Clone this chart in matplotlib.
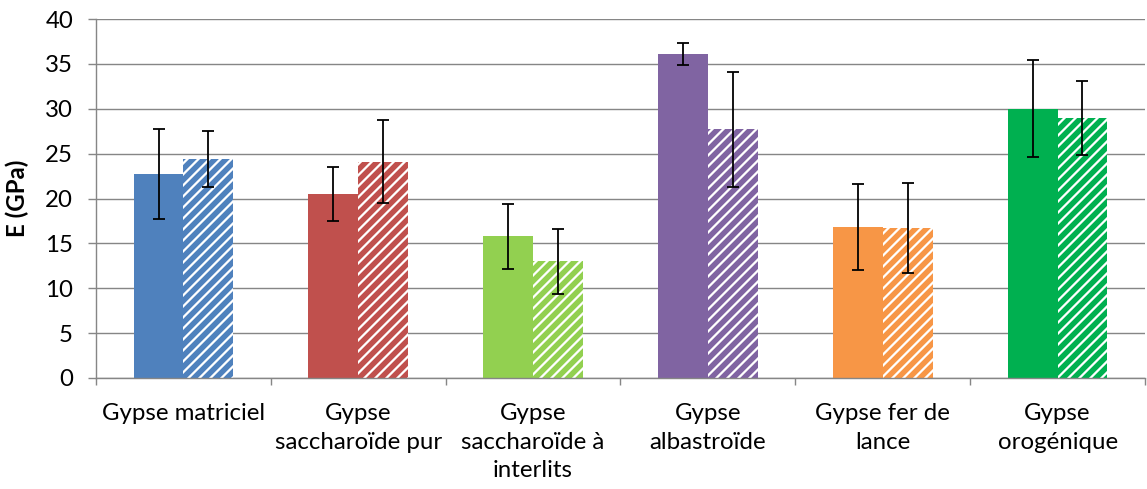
import numpy as np
import matplotlib
matplotlib.use('Agg')
import matplotlib.pyplot as plt

# Data
categories = ['Gypse matriciel', 'Gypse\nsaccharoïde pur', 'Gypse\nsaccharoïde à\ninterlits',
              'Gypse\nalbastroïde', 'Gypse fer de\nlance', 'Gypse\norogénique']
solid_vals = [22.7, 20.5, 15.8, 36.1, 16.8, 30.0]
solid_err = [5.0, 3.0, 3.6, 1.2, 4.8, 5.4]
hatch_vals = [24.4, 24.1, 13.0, 27.7, 16.7, 29.0]
hatch_err = [3.1, 4.6, 3.6, 6.4, 5.0, 4.1]
colors = ['#4F81BD', '#C0504D', '#92D050', '#8064A2', '#F79646', '#00B050']
yticks = [0, 5, 10, 15, 20, 25, 30, 35, 40]

DPI = 66
px = 72.0 / DPI  # points per pixel

plt.rcParams['font.family'] = ['Lato', 'DejaVu Sans']
plt.rcParams['hatch.linewidth'] = 5.5 * px

fig = plt.figure(figsize=(1147 / DPI, 489 / DPI), dpi=DPI)
ax = fig.add_axes([96 / 1147, 1 - 378 / 489, 1049 / 1147, 359 / 489])

x = np.arange(len(categories))
w = 0.285

ax.bar(x - w / 2, solid_vals, w, color=colors, zorder=2)
ax.bar(x + w / 2, hatch_vals, w, color='white', edgecolor=colors, hatch='//',
       linewidth=0, zorder=2)

ax.errorbar(x - w / 2, solid_vals, yerr=solid_err, fmt='none', ecolor='black',
            elinewidth=1.8 * px, capsize=6 * px, capthick=1.8 * px, zorder=3)
ax.errorbar(x + w / 2, hatch_vals, yerr=hatch_err, fmt='none', ecolor='black',
            elinewidth=1.8 * px, capsize=6 * px, capthick=1.8 * px, zorder=3)

ax.set_xlim(-0.5, len(categories) - 0.5)
ax.set_ylim(0, 40)
ax.set_yticks(yticks)
ax.yaxis.grid(True, color='#868686', linewidth=1.4 * px, zorder=0)
ax.set_axisbelow(True)

for s in ['top', 'right']:
    ax.spines[s].set_visible(False)
for s in ['left', 'bottom']:
    ax.spines[s].set_color('#868686')
    ax.spines[s].set_linewidth(1.4 * px)

fs = 24 * px
ax.tick_params(axis='y', direction='out', length=8 * px, width=1.4 * px,
               color='#868686', labelsize=fs, pad=15 * px)

# category boundaries carry the x tick marks, labels sit at the centres
ax.set_xticks(np.arange(len(categories) + 1) - 0.5)
ax.set_xticklabels([])
ax.tick_params(axis='x', direction='out', length=7 * px, width=1.4 * px, color='#868686')
ax.set_xticks(x, minor=True)
ax.set_xticklabels(categories, minor=True, fontsize=fs, linespacing=1.45)
ax.tick_params(axis='x', which='minor', length=0, pad=25 * px)

ax.set_ylabel('E (GPa)', fontsize=fs, fontweight='bold')
ax.yaxis.set_label_coords(-0.064, 0.5)

fig.savefig('out.png', dpi=DPI)
